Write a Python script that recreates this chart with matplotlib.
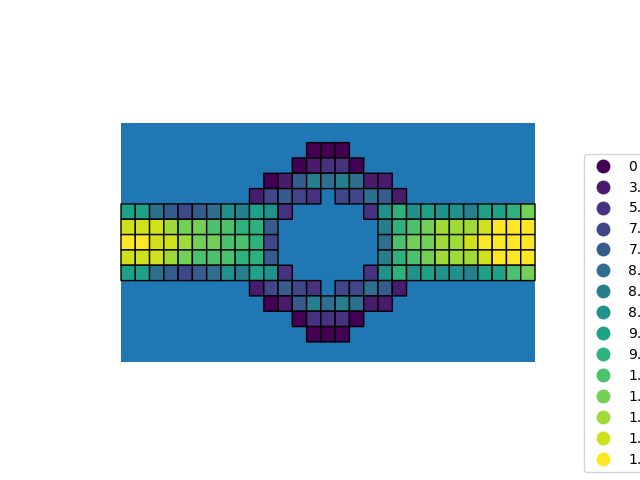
import matplotlib
matplotlib.use("Agg")
import matplotlib.pyplot as plt
import numpy as np
from matplotlib.colors import ListedColormap
from matplotlib.lines import Line2D

# category index of every cell, -1 = no cell (rows top -> bottom)
E = -1
row0 = [E]*13 + [0, 0, 0] + [E]*13
row1 = [E]*12 + [0, 1, 2, 2, 0] + [E]*12
row2 = [E]*10 + [0, 1, 4, 6, 5, 6, 5, 1, 1] + [E]*10
row3 = [E]*9 + [1, 3, 4, 3, 2, E, 3, 3, 5, 4, 1] + [E]*9
row4 = [8, 8, 5, 4, 3, 4, 5, 7, 6, 8, 7, 2] + [E]*5 + [2, 7, 9, 7, 8, 7, 7, 6, 8, 8, 9, 11]
row5 = [13, 13, 13, 12, 11, 11, 10, 10, 9, 9, 4] + [E]*7 + [6, 9, 10, 11, 12, 12, 12, 13, 14, 14, 14]
row6 = [14, 14, 13, 13, 12, 11, 11, 10, 10, 9, 3] + [E]*7 + [5, 10, 11, 11, 12, 12, 13, 14, 14, 14, 14]
row7 = [13, 13, 13, 12, 11, 10, 10, 10, 9, 9, 4] + [E]*7 + [6, 9, 10, 11, 12, 12, 12, 13, 14, 14, 14]
row8 = [8, 8, 5, 4, 3, 4, 5, 7, 6, 8, 7, 2] + [E]*5 + [2, 7, 9, 7, 8, 7, 7, 6, 8, 8, 10, 11]
row9 = row3
row10 = row2
row11 = [E]*12 + [0, 2, 2, 2, 0] + [E]*12
row12 = row0

labels = ["0", "3.46", "5.29", "7.07", "7.75", "8.06", "8.49", "8.83",
          "9.17", "9.54", "1.02e+01", "1.07e+01", "1.12e+01", "1.18e+01", "1.25e+01"]

# background polygon (grid units)
bg_x = [0, 29, 29, 0]
bg_y = [-1.28, -1.28, 14.28, 14.28]

grid = np.array([row0, row1, row2, row3, row4, row5, row6, row7, row8,
                 row9, row10, row11, row12], dtype=float)
vals = np.ma.masked_less(grid, 0)

n = len(labels)
colors = plt.cm.viridis(np.linspace(0, 1, n))
cmap = ListedColormap(colors)

fig = plt.figure(figsize=(6.4, 4.8), dpi=100)
ax = fig.add_axes([121/640, 1 - 361.5/480, 414/640, 238.5/480])
ax.axis("off")

bg = ax.fill(bg_x, bg_y, color="#1f77b4", linewidth=0)
for p in bg:
    p.set_clip_on(False)

xe = np.arange(grid.shape[1] + 1)
ye = np.arange(grid.shape[0] + 1)
mesh = ax.pcolor(xe, ye, vals, cmap=cmap, vmin=-0.5, vmax=n - 0.5,
                 edgecolors="black", linewidth=1.0)
mesh.set_clip_on(False)

ax.set_xlim(min(bg_x), max(bg_x))
ax.set_ylim(max(bg_y), min(bg_y))

handles = [Line2D([0], [0], linestyle="none", marker="o", markersize=10,
                  markerfacecolor=c, markeredgewidth=0) for c in colors]
ax.legend(handles, labels, loc="upper left", borderaxespad=0,
          bbox_to_anchor=(584/640, 1 - 154/480), bbox_transform=fig.transFigure)

fig.savefig("out.png", dpi=100)
